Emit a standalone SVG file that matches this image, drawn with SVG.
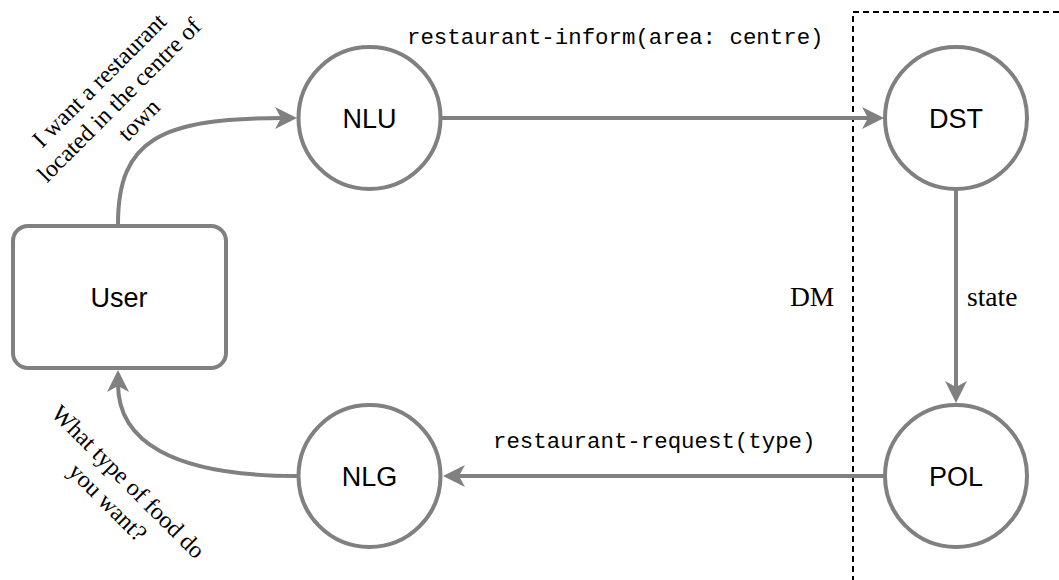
<svg xmlns="http://www.w3.org/2000/svg" width="1059" height="580" viewBox="0 0 1059 580">
<style>
.node{fill:#ffffff;stroke:#808080;stroke-width:4}
.edge{fill:none;stroke:#808080;stroke-width:4}
.lbl{font-family:"Liberation Sans",Arial,sans-serif;font-size:27px;fill:#000;text-anchor:middle}
.mono{font-family:"Liberation Mono","Courier New",monospace;font-size:22.4px;fill:#000}
.serif{font-family:"Liberation Serif","Times New Roman",serif;font-size:27.5px;fill:#000}
.rot{font-family:"Liberation Serif","Times New Roman",serif;font-size:24px;fill:#000;text-anchor:middle}
</style>
<defs>
<marker id="arr" markerUnits="userSpaceOnUse" viewBox="0 -12 23 24" markerWidth="23" markerHeight="24" refX="8" refY="0" orient="auto">
<path d="M22,0 L0,-11 L6,0 L0,11 Z" fill="#808080"/>
</marker>
</defs>
<rect id="dm-boundary" x="853" y="12" width="300" height="700" fill="none" stroke="#000" stroke-width="2" stroke-dasharray="6 4"/>
<g id="connectors">
<path class="edge" d="M118,224 C118,140 160,118 283,118" marker-end="url(#arr)"/>
<path class="edge" d="M441,118 L870,118" marker-end="url(#arr)"/>
<path class="edge" d="M956,189 L956,389" marker-end="url(#arr)"/>
<path class="edge" d="M885,476 L457,476" marker-end="url(#arr)"/>
<path class="edge" d="M297,476 C170,476 118,440 118,384" marker-end="url(#arr)"/>
</g>
<g id="user"><rect class="node" x="13" y="226" width="213" height="142" rx="15"/><text class="lbl" x="119" y="307">User</text></g>
<g id="nlu"><circle class="node" cx="369.5" cy="118" r="71"/><text class="lbl" x="369.5" y="128">NLU</text></g>
<g id="dst"><circle class="node" cx="956" cy="118" r="71"/><text class="lbl" x="956" y="128">DST</text></g>
<g id="pol"><circle class="node" cx="956" cy="476" r="71"/><text class="lbl" x="956" y="486">POL</text></g>
<g id="nlg"><circle class="node" cx="369.5" cy="476" r="71"/><text class="lbl" x="369.5" y="486">NLG</text></g>
<g id="labels">
<text class="mono" x="407" y="44">restaurant-inform(area: centre)</text>
<text class="mono" x="493" y="448">restaurant-request(type)</text>
<text class="serif" x="790" y="306">DM</text>
<text class="serif" x="967" y="306">state</text>
<g transform="translate(119,100) rotate(-45)">
<text class="rot" x="0" y="-20">I want a restaurant</text>
<text class="rot" x="0" y="8">located in the centre of</text>
<text class="rot" x="0" y="36">town</text>
</g>
<g transform="translate(118,492) rotate(45)">
<text class="rot" x="0" y="-6.5">What type of food do</text>
<text class="rot" x="0" y="22.5">you want?</text>
</g>
</g>
</svg>
